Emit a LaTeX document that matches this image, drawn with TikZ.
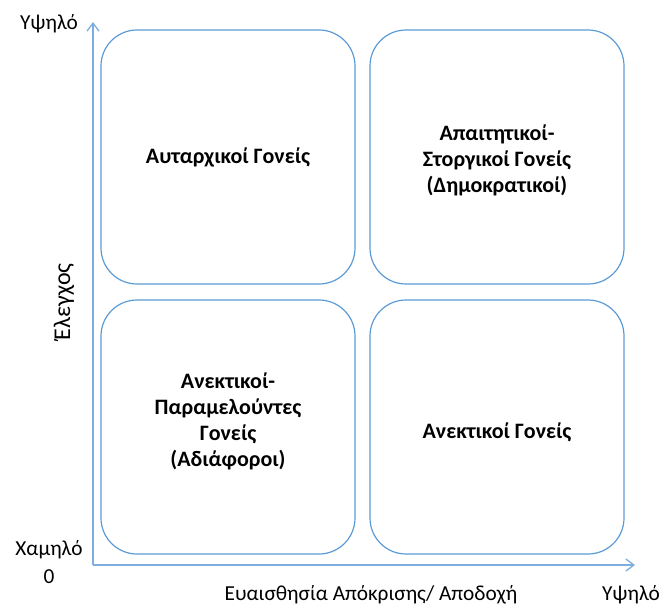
\documentclass[tikz,border=0pt]{standalone}
\usepackage{fontspec}
\setmainfont{Carlito}
\usetikzlibrary{arrows.meta}
\definecolor{accent}{HTML}{5B9BD5}
\definecolor{axisblue}{HTML}{7EAEDF}
\begin{document}
\begin{tikzpicture}[x=0.75pt,y=-0.75pt,
  quad/.style={draw=accent, line width=0.9pt, rounded corners=27pt, minimum width=254*0.75pt, minimum height=254*0.75pt, inner sep=0pt},
  qtext/.style={inner sep=0pt, align=center, font=\fontsize{16.5}{19.5}\selectfont\bfseries},
  axis/.style={draw=axisblue, line width=1.2pt, -{Straight Barb[length=6pt,width=9pt,line width=1pt]}},
  lbl/.style={inner sep=0pt, font=\fontsize{16}{19.5}\selectfont}]
\useasboundingbox (0,0) rectangle (665,608);
% quadrant frames
\node[quad] (tl) at (228,157) {};
\node[quad] (tr) at (497,157) {};
\node[quad] (bl) at (228,427) {};
\node[quad] (br) at (497,427) {};
% quadrant captions
\node[qtext] (tltext) at (228,157) {Αυταρχικοί Γονείς};
\node[qtext] (trtext) at (497,160) {Απαιτητικοί-\\Στοργικοί Γονείς\\(Δημοκρατικοί)};
\node[qtext] (bltext) at (228,421) {Ανεκτικοί-\\Παραμελούντες\\Γονείς\\(Αδιάφοροι)};
\node[qtext] (brtext) at (497,432) {Ανεκτικοί Γονείς};
% axes
\coordinate (o) at (93,565);
\coordinate (ytip) at (93,22);
\coordinate (xtip) at (635,565);
\draw[axis] (o) -- (ytip);
\draw[axis] (o) -- (xtip);
% axis labels
\node[lbl] (yhigh) at (49,24) {Υψηλό};
\node[lbl] (ylow) at (49,550) {Χαμηλό};
\node[lbl] (zero) at (49,577) {0};
\node[lbl] (xname) at (371,595) {Ευαισθησία Απόκρισης/ Αποδοχή};
\node[lbl] (xhigh) at (631,595) {Υψηλό};
\node[lbl, rotate=90, font=\fontsize{18}{20}\selectfont] (yname) at (64,302) {Έλεγχος};
\end{tikzpicture}
\end{document}
